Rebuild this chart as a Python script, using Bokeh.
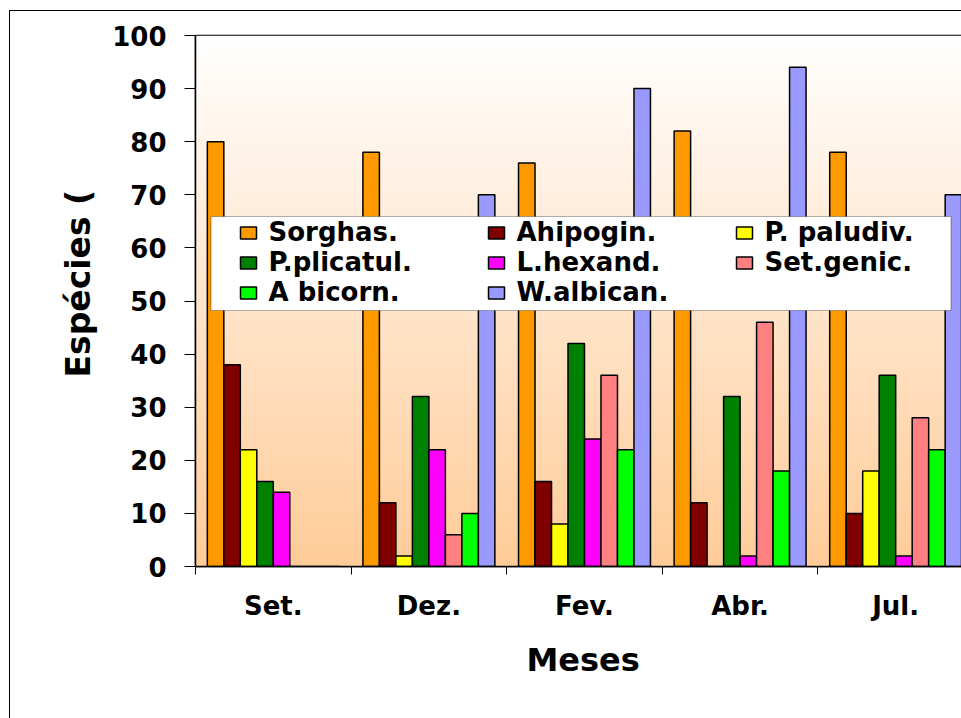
import numpy as np
from bokeh.plotting import figure
from bokeh.models import FixedTicker, Legend, LegendItem, Title, Range1d, BoxAnnotation
from bokeh.embed import file_html
from bokeh.resources import INLINE

# ---- data ----
months = ["Set.", "Dez.", "Fev.", "Abr.", "Jul."]
species = ["Sorghas.", "Ahipogin.", "P. paludiv.", "P.plicatul.",
           "L.hexand.", "Set.genic.", "A bicorn.", "W.albican."]
sorghas = [80, 78, 76, 82, 78]
ahipogin = [38, 12, 16, 12, 10]
p_paludiv = [22, 2, 8, 0, 18]
p_plicatul = [16, 32, 42, 32, 36]
l_hexand = [14, 22, 24, 2, 2]
set_genic = [0, 6, 36, 46, 28]
a_bicorn = [0, 10, 22, 18, 22]
w_albican = [0, 70, 90, 94, 70]
series = [sorghas, ahipogin, p_paludiv, p_plicatul, l_hexand, set_genic, a_bicorn, w_albican]
colors = ["#FF9900", "#800000", "#FFFF00", "#008000",
          "#FF00FF", "#FF8080", "#00FF00", "#9999FF"]
y_ticks = list(range(0, 101, 10))

FONT = "DejaVu Sans"

p = figure(frame_width=766, frame_height=531,
           min_border_left=185, min_border_right=0,
           min_border_top=24, min_border_bottom=152,
           x_range=Range1d(0, 4.923), y_range=Range1d(0, 100),
           output_backend="svg", toolbar_location=None)
p.margin = (10, 0, 0, 9)
p.styles = {"border-left": "1px solid black", "border-top": "1px solid black"}

# background gradient (white at top to peach at bottom)
n = 256
t = np.linspace(0, 1, n)
top = np.array([255, 255, 255])
bot = np.array([255, 204, 153])
rgb = (bot[None, :] * (1 - t[:, None]) + top[None, :] * t[:, None]).astype(np.uint8)
img = np.empty((n, 1), dtype=np.uint32)
view = img.view(dtype=np.uint8).reshape((n, 1, 4))
view[:, 0, 0] = rgb[:, 0]
view[:, 0, 1] = rgb[:, 1]
view[:, 0, 2] = rgb[:, 2]
view[:, 0, 3] = 255
p.image_rgba(image=[img], x=0, y=0, dw=5, dh=100)

bw = 0.106
items = []
for k, (name, vals, col) in enumerate(zip(species, series, colors)):
    xs = [i + 0.5 + (k - 3.5) * bw for i in range(len(months))]
    r = p.vbar(x=xs, top=vals, bottom=0, width=bw, fill_color=col,
               line_color="black", line_width=1.5)
    items.append(LegendItem(label=name, renderers=[r]))

# legend frame
p.add_layout(BoxAnnotation(left=15.5, right=755.5, bottom=256, top=350,
                           left_units="screen", right_units="screen",
                           bottom_units="screen", top_units="screen",
                           fill_color="white", fill_alpha=1.0,
                           line_color="black", line_width=1.2))

legend = Legend(items=items, location=(42.5, 259), orientation="horizontal", ncols=3,
                label_text_font=FONT, label_text_font_style="bold",
                label_text_font_size="26px", label_text_color="black",
                glyph_width=20, glyph_height=15, label_standoff=11,
                label_width=217, label_height=25, spacing=0, padding=0, margin=0,
                border_line_alpha=0, background_fill_alpha=0.0)
p.add_layout(legend)

p.xgrid.visible = False
p.ygrid.visible = False
p.outline_line_color = "black"
p.outline_line_width = 1.5
p.background_fill_color = "white"
p.border_fill_color = "white"

xa = p.xaxis[0]
xa.ticker = FixedTicker(ticks=[i + 0.5 for i in range(len(months))],
                        minor_ticks=list(range(len(months))))
xa.major_label_overrides = {i + 0.5: m for i, m in enumerate(months)}
xa.major_tick_out = 0
xa.major_tick_in = 0
xa.minor_tick_out = 8
xa.minor_tick_in = 0
xa.minor_tick_line_color = "black"
xa.axis_line_color = "black"
xa.axis_line_width = 1.5
xa.major_label_text_font = FONT
xa.major_label_text_font_style = "bold"
xa.major_label_text_font_size = "26px"
xa.major_label_text_color = "black"
xa.major_label_standoff = 16

ya = p.yaxis[0]
ya.ticker = FixedTicker(ticks=y_ticks, minor_ticks=[])
ya.major_tick_out = 11
ya.major_tick_in = 0
ya.major_tick_line_color = "black"
ya.axis_line_color = "black"
ya.axis_line_width = 1.5
ya.major_label_text_font = FONT
ya.major_label_text_font_style = "bold"
ya.major_label_text_font_size = "26px"
ya.major_label_text_color = "black"
ya.major_label_standoff = 18

p.add_layout(Title(text="Espécies (", align="left", offset=189, standoff=23,
                   text_font=FONT, text_font_style="bold",
                   text_font_size="33px", text_color="black"), "left")
p.add_layout(Title(text="Meses", align="left", offset=331, standoff=30,
                   text_font=FONT, text_font_style="bold",
                   text_font_size="32px", text_color="black"), "below")

open("out.html", "w").write(file_html(p, INLINE))
